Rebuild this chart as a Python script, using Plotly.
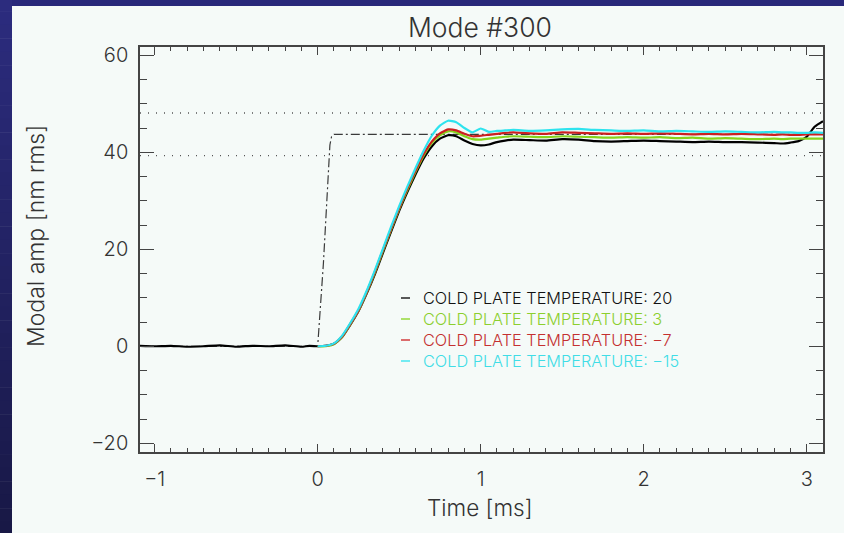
import plotly.graph_objects as go

# ---- data -------------------------------------------------------------
t_pre = [-1.09, -1.0, -0.9, -0.8, -0.7, -0.6, -0.5, -0.4, -0.3, -0.2, -0.1, -0.05]
black_pre = [0.1, 0.0, 0.1, -0.1, 0.0, 0.2, -0.1, 0.1, 0.0, 0.2, -0.1, 0.1]

t_resp = [0.00, 0.05, 0.10, 0.15, 0.20, 0.25, 0.30, 0.35, 0.40, 0.45, 0.50, 0.55,
          0.60, 0.65, 0.70, 0.75, 0.80, 0.85, 0.90, 0.95, 1.00, 1.05, 1.10, 1.15,
          1.20, 1.30, 1.40, 1.50, 1.60, 1.70, 1.80, 1.90, 2.00, 2.10, 2.20, 2.30,
          2.40, 2.50, 2.60, 2.70, 2.80, 2.85, 2.90, 2.95, 3.00, 3.05, 3.10]

amp_t20 = [0.0, 0.1, 0.5, 1.9, 4.4, 7.2, 10.8, 14.8, 19.2, 23.6, 27.9, 31.8,
           35.4, 38.7, 41.2, 42.8, 43.5, 43.3, 42.4, 41.7, 41.4, 41.6, 42.1, 42.4,
           42.6, 42.5, 42.4, 42.7, 42.6, 42.3, 42.2, 42.3, 42.4, 42.3, 42.2, 42.1,
           42.2, 42.1, 42.1, 42.0, 41.9, 41.8, 42.0, 42.3, 43.2, 45.3, 46.4]
amp_t3 = [0.0, 0.0, 0.4, 1.9, 4.5, 7.3, 11.0, 15.1, 19.6, 24.0, 28.3, 32.2,
          35.9, 39.3, 41.9, 43.5, 44.3, 44.1, 43.3, 42.7, 42.6, 42.8, 43.0, 43.2,
          43.3, 43.2, 43.1, 43.3, 43.2, 43.1, 43.0, 43.1, 43.0, 43.1, 42.9, 43.0,
          42.8, 42.9, 42.8, 42.7, 42.8, 42.7, 42.8, 42.8, 42.8, 42.8, 42.8]
amp_tm7 = [0.0, 0.1, 0.5, 2.0, 4.6, 7.4, 11.1, 15.3, 19.8, 24.2, 28.5, 32.5,
           36.2, 39.6, 42.2, 43.9, 44.7, 44.5, 43.8, 43.3, 43.4, 43.6, 43.8, 44.0,
           44.1, 43.9, 43.8, 44.1, 44.0, 43.9, 43.8, 43.9, 43.8, 43.9, 43.8, 43.7,
           43.8, 43.7, 43.8, 43.7, 43.6, 43.7, 43.6, 43.6, 43.7, 43.7, 43.7]
amp_tm15 = [0.0, 0.1, 0.6, 2.2, 4.8, 7.7, 11.4, 15.6, 20.1, 24.6, 28.9, 32.9,
            36.7, 40.3, 43.4, 45.5, 46.5, 46.2, 45.0, 44.1, 44.9, 44.2, 44.4, 44.5,
            44.6, 44.4, 44.5, 44.7, 44.8, 44.6, 44.5, 44.4, 44.5, 44.3, 44.4, 44.3,
            44.2, 44.3, 44.2, 44.1, 44.2, 44.1, 44.1, 44.0, 44.0, 44.1, 44.0]

# commanded step and its +/-10 % band
t_step = [-1.09, 0.0, 0.035, 0.065, 0.075, 0.085, 0.10, 3.10]
amp_step = [0.0, 0.0, 17.0, 37.5, 41.5, 43.2, 43.7, 43.7]
band_levels = [39.3, 48.1]

labels = ["COLD PLATE TEMPERATURE: 20", "COLD PLATE TEMPERATURE: 3",
          "COLD PLATE TEMPERATURE: \u22127", "COLD PLATE TEMPERATURE: \u221215"]
colors = ["#000000", "#86d41c", "#cc2020", "#2ee3ee"]
text_colors = ["#111111", "#8ccf2e", "#c43030", "#40dde6"]

x_range = [-1.09, 3.10]
y_range = [-21.8, 61.7]
x_ticks = [-1, 0, 1, 2, 3]
y_ticks = [-20, 0, 20, 40, 60]

# ---- figure -----------------------------------------------------------
W, H = 844, 533
ML, MR, MT, MB = 140, 21, 47, 81
PW, PH = W - ML - MR, H - MT - MB


def px(x):
    return (x - ML) / PW


def py(y):
    return (H - MB - y) / PH


FONT = "Inter"
WT = 300
TXT = "#333333"

fig = go.Figure()

for lvl in band_levels:
    fig.add_trace(go.Scatter(x=x_range, y=[lvl, lvl], mode="lines",
                             line=dict(color="#555555", width=1.4, dash="1px,7px"),
                             hoverinfo="skip", showlegend=False))

fig.add_trace(go.Scatter(x=t_step, y=amp_step, mode="lines",
                         line=dict(color="#3a3a3a", width=1.2, dash="9px,3px,2px,3px"),
                         showlegend=False))

series = [amp_t20, amp_t3, amp_tm7, amp_tm15]
for i, amp in enumerate(series):
    if i == 0:
        xs, ys = t_pre + t_resp, black_pre + amp
    else:
        xs, ys = t_resp, amp
    fig.add_trace(go.Scatter(x=xs, y=ys, mode="lines", name=labels[i],
                             line=dict(color=colors[i], width=2.2, shape="spline",
                                       smoothing=0.5),
                             showlegend=False))

# in-plot key: short dash followed by coloured text
key_rows_px = [298, 319, 340, 361]
shapes = []
annotations = []
for i, lab in enumerate(labels):
    yk = py(key_rows_px[i])
    shapes.append(dict(type="line", xref="paper", yref="paper",
                       x0=px(401), x1=px(410), y0=yk, y1=yk,
                       line=dict(color=colors[i], width=1.3)))
    annotations.append(dict(text=lab, xref="paper", yref="paper", x=px(421), y=yk,
                            xanchor="left", yanchor="middle", showarrow=False,
                            font=dict(family=FONT, size=16.3, weight=WT,
                                      color=text_colors[i])))

# framing: dark blue border with a vertical gradient on the left strip
shapes.append(dict(type="rect", xref="paper", yref="paper", layer="below",
                   x0=px(0), x1=px(W), y0=py(6), y1=py(-2),
                   fillcolor="#28287a", line=dict(width=0)))
n_band = 40
top_rgb, bot_rgb = (0x2c, 0x2c, 0x7e), (0x18, 0x18, 0x46)
for k in range(n_band):
    f = k / (n_band - 1)
    c = tuple(round(a + (b - a) * f) for a, b in zip(top_rgb, bot_rgb))
    y0 = -2 + k * (H + 4) / n_band
    y1 = -2 + (k + 1) * (H + 4) / n_band + 0.5
    shapes.append(dict(type="rect", xref="paper", yref="paper", layer="below",
                       x0=px(-2), x1=px(12), y0=py(y1), y1=py(y0),
                       fillcolor="rgb(%d,%d,%d)" % c, line=dict(width=0)))

annotations.append(dict(text="Mode #300", xref="paper", yref="paper",
                        x=px(480), y=py(27), xanchor="center", yanchor="middle",
                        showarrow=False,
                        font=dict(family=FONT, size=26.5, weight=WT, color=TXT)))
annotations.append(dict(text="Time [ms]", xref="paper", yref="paper",
                        x=px(479), y=py(507), xanchor="center", yanchor="middle",
                        showarrow=False,
                        font=dict(family=FONT, size=22.5, weight=WT, color=TXT)))
annotations.append(dict(text="Modal amp [nm rms]", xref="paper", yref="paper",
                        x=px(36), y=py(236), xanchor="center", yanchor="middle",
                        textangle=-90, showarrow=False,
                        font=dict(family=FONT, size=23, weight=WT, color=TXT)))

axis_common = dict(showline=True, linecolor="#444444", linewidth=1.5, mirror="allticks",
                   ticks="inside", tickcolor="#444444", tickwidth=1.3,
                   showgrid=False, zeroline=False,
                   tickfont=dict(family=FONT, size=20, weight=WT, color=TXT))

fig.update_layout(
    width=W, height=H,
    margin=dict(l=ML, r=MR, t=MT, b=MB, pad=0),
    paper_bgcolor="#f5faf8",
    plot_bgcolor="#f5faf8",
    showlegend=False,
    xaxis=dict(range=x_range, tickvals=x_ticks,
               ticktext=[str(v).replace("-", "\u2212") for v in x_ticks],
               ticklen=8, ticklabelstandoff=8,
               minor=dict(dtick=0.1, tick0=0, ticklen=4, ticks="inside",
                          tickcolor="#444444", tickwidth=1.1),
               **axis_common),
    yaxis=dict(range=y_range, tickvals=y_ticks,
               ticktext=[str(v).replace("-", "\u2212") for v in y_ticks],
               ticklen=14, ticklabelstandoff=6,
               minor=dict(dtick=5, tick0=0, ticklen=7, ticks="inside",
                          tickcolor="#444444", tickwidth=1.1),
               **axis_common),
    shapes=shapes,
    annotations=annotations,
)

fig.write_html("out.html")
